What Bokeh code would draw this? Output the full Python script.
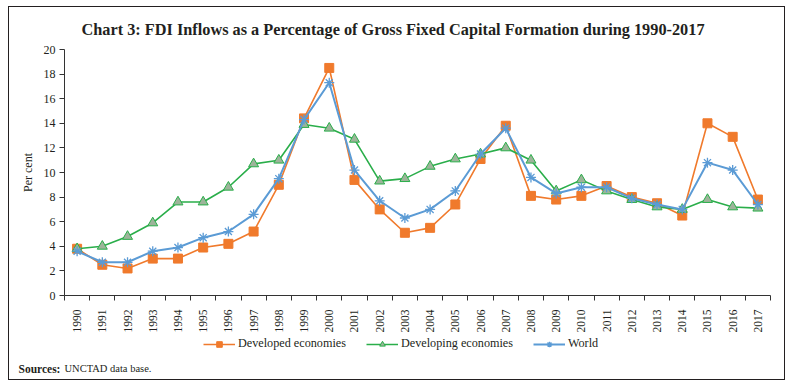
import numpy as np
from bokeh.plotting import figure
from bokeh.layouts import column
from bokeh.models import Range1d, FixedTicker, Legend, LegendItem, Label, ColumnDataSource
from bokeh.embed import file_html
from bokeh.resources import INLINE

years = list(range(1990, 2018))
developed = [3.8, 2.5, 2.2, 3.0, 3.0, 3.9, 4.2, 5.2, 9.0, 14.4, 18.5, 9.4, 7.0, 5.1,
             5.5, 7.4, 11.1, 13.8, 8.1, 7.8, 8.1, 8.9, 8.0, 7.5, 6.5, 14.0, 12.9, 7.8]
developing = [3.8, 4.0, 4.8, 5.9, 7.6, 7.6, 8.8, 10.7, 11.0, 13.9, 13.6, 12.7, 9.3, 9.5,
              10.5, 11.1, 11.5, 12.0, 11.0, 8.5, 9.4, 8.5, 7.8, 7.2, 7.0, 7.8, 7.2, 7.1]
world = [3.6, 2.7, 2.7, 3.6, 3.9, 4.7, 5.2, 6.6, 9.5, 14.3, 17.3, 10.2, 7.7, 6.3,
         7.0, 8.5, 11.5, 13.6, 9.6, 8.3, 8.8, 8.8, 7.9, 7.4, 7.0, 10.8, 10.2, 7.4]
y_ticks = list(range(0, 21, 2))

title_text = "Chart 3: FDI Inflows as a Percentage of Gross Fixed Capital Formation during 1990-2017"
series_names = ["Developed economies", "Developing economies", "World"]
source_label = "Sources:"
source_text = "UNCTAD data base."

SERIF = "Liberation Serif"
TXT = "#231F20"
ORANGE = "#F07A2C"
GREEN = "#2AAE4A"
BLUE = "#5B9BD5"
TRI_FILL = "#9DB49A"

src = ColumnDataSource(dict(year=years, dev=developed, dvg=developing, wld=world))

# ---------------- main chart ----------------
p = figure(width=775, height=328, output_backend="svg", toolbar_location=None,
           x_range=Range1d(years[0] - 0.5, years[-1] + 0.5), y_range=Range1d(0, 20),
           min_border_left=55, min_border_right=14, min_border_top=41, min_border_bottom=39)
p.outline_line_color = None
p.xgrid.visible = False
p.ygrid.visible = False

p.title.text = title_text
p.title.text_font = SERIF
p.title.text_font_style = "bold"
p.title.text_font_size = "16.3px"
p.title.text_color = TXT
p.title.align = "left"
p.title.offset = 17
p.title.standoff = 21

# x axis
p.xaxis.ticker = FixedTicker(ticks=years, minor_ticks=[y - 0.5 for y in years] + [years[-1] + 0.5])
p.xaxis.major_tick_line_color = None
p.xaxis.major_tick_out = 0
p.xaxis.major_tick_in = 0
p.xaxis.minor_tick_line_color = "#333"
p.xaxis.minor_tick_out = 5
p.xaxis.minor_tick_in = 0
p.xaxis.major_label_orientation = np.pi / 2
p.xaxis.major_label_text_font = SERIF
p.xaxis.major_label_text_font_size = "11.5px"
p.xaxis.major_label_text_color = TXT
p.xaxis.major_label_standoff = 9
p.xaxis.axis_line_color = "#333"

# y axis
p.yaxis.ticker = FixedTicker(ticks=y_ticks, minor_ticks=[])
p.yaxis.major_tick_out = 5
p.yaxis.major_tick_in = 0
p.yaxis.major_tick_line_color = "#333"
p.yaxis.axis_line_color = "#333"
p.yaxis.major_label_text_font = SERIF
p.yaxis.major_label_text_font_size = "12px"
p.yaxis.major_label_text_color = TXT
p.yaxis.major_label_standoff = 4
p.yaxis.axis_label = "Per cent"
p.yaxis.axis_label_text_font = SERIF
p.yaxis.axis_label_text_font_style = "normal"
p.yaxis.axis_label_text_font_size = "12px"
p.yaxis.axis_label_text_color = TXT
p.yaxis.axis_label_standoff = 6

p.line("year", "dev", source=src, line_color=ORANGE, line_width=1.6)
p.scatter("year", "dev", source=src, marker="square", size=9,
          fill_color=ORANGE, line_color=ORANGE)
p.line("year", "dvg", source=src, line_color=GREEN, line_width=1.6)
p.scatter("year", "dvg", source=src, marker="triangle", size=10,
          fill_color=TRI_FILL, line_color=GREEN, line_width=1)
p.line("year", "wld", source=src, line_color=BLUE, line_width=2)
p.scatter("year", "wld", source=src, marker="asterisk", size=10,
          line_color=BLUE, line_width=1.3)

# ---------------- legend + source strip ----------------
q = figure(width=775, height=44, output_backend="svg", toolbar_location=None,
           x_range=Range1d(0, 1), y_range=Range1d(0, 1),
           x_axis_location=None, y_axis_location=None,
           min_border_left=0, min_border_right=0, min_border_top=0, min_border_bottom=0)
q.frame_align = False
q.outline_line_color = None
q.xgrid.visible = False
q.ygrid.visible = False

kl1 = q.line("year", "dev", source=src, line_color=ORANGE, line_width=1.6, visible=False)
km1 = q.scatter("year", "dev", source=src, marker="square", size=8,
                fill_color=ORANGE, line_color=ORANGE, visible=False)
kl2 = q.line("year", "dvg", source=src, line_color=GREEN, line_width=1.6, visible=False)
km2 = q.scatter("year", "dvg", source=src, marker="triangle", size=8,
                fill_color=TRI_FILL, line_color=GREEN, visible=False)
kl3 = q.line("year", "wld", source=src, line_color=BLUE, line_width=2, visible=False)
km3 = q.scatter("year", "wld", source=src, marker="asterisk", size=8,
                line_color=BLUE, line_width=1.3, visible=False)

legend = Legend(items=[LegendItem(label=series_names[0], renderers=[kl1, km1]),
                       LegendItem(label=series_names[1], renderers=[kl2, km2]),
                       LegendItem(label=series_names[2], renderers=[kl3, km3])],
                orientation="horizontal", location=(194, 28),
                label_text_font=SERIF, label_text_font_size="12.2px", label_text_color=TXT,
                glyph_width=32, glyph_height=14, label_standoff=3, spacing=20,
                padding=0, margin=0, border_line_color=None, background_fill_alpha=0,
                inactive_fill_alpha=0)
q.add_layout(legend)

q.add_layout(Label(x=9, y=11, x_units="screen", y_units="screen", text=source_label,
                   text_font=SERIF, text_font_style="bold", text_font_size="11.5px",
                   text_color=TXT, text_align="left", text_baseline="middle"))
q.add_layout(Label(x=55, y=11, x_units="screen", y_units="screen", text=source_text,
                   text_font=SERIF, text_font_size="10.5px",
                   text_color=TXT, text_align="left", text_baseline="middle"))

layout = column(p, q, spacing=0, margin=(6, 0, 0, 8),
                styles={"border": "1px solid #231F20"})

open("out.html", "w").write(file_html(layout, INLINE))
